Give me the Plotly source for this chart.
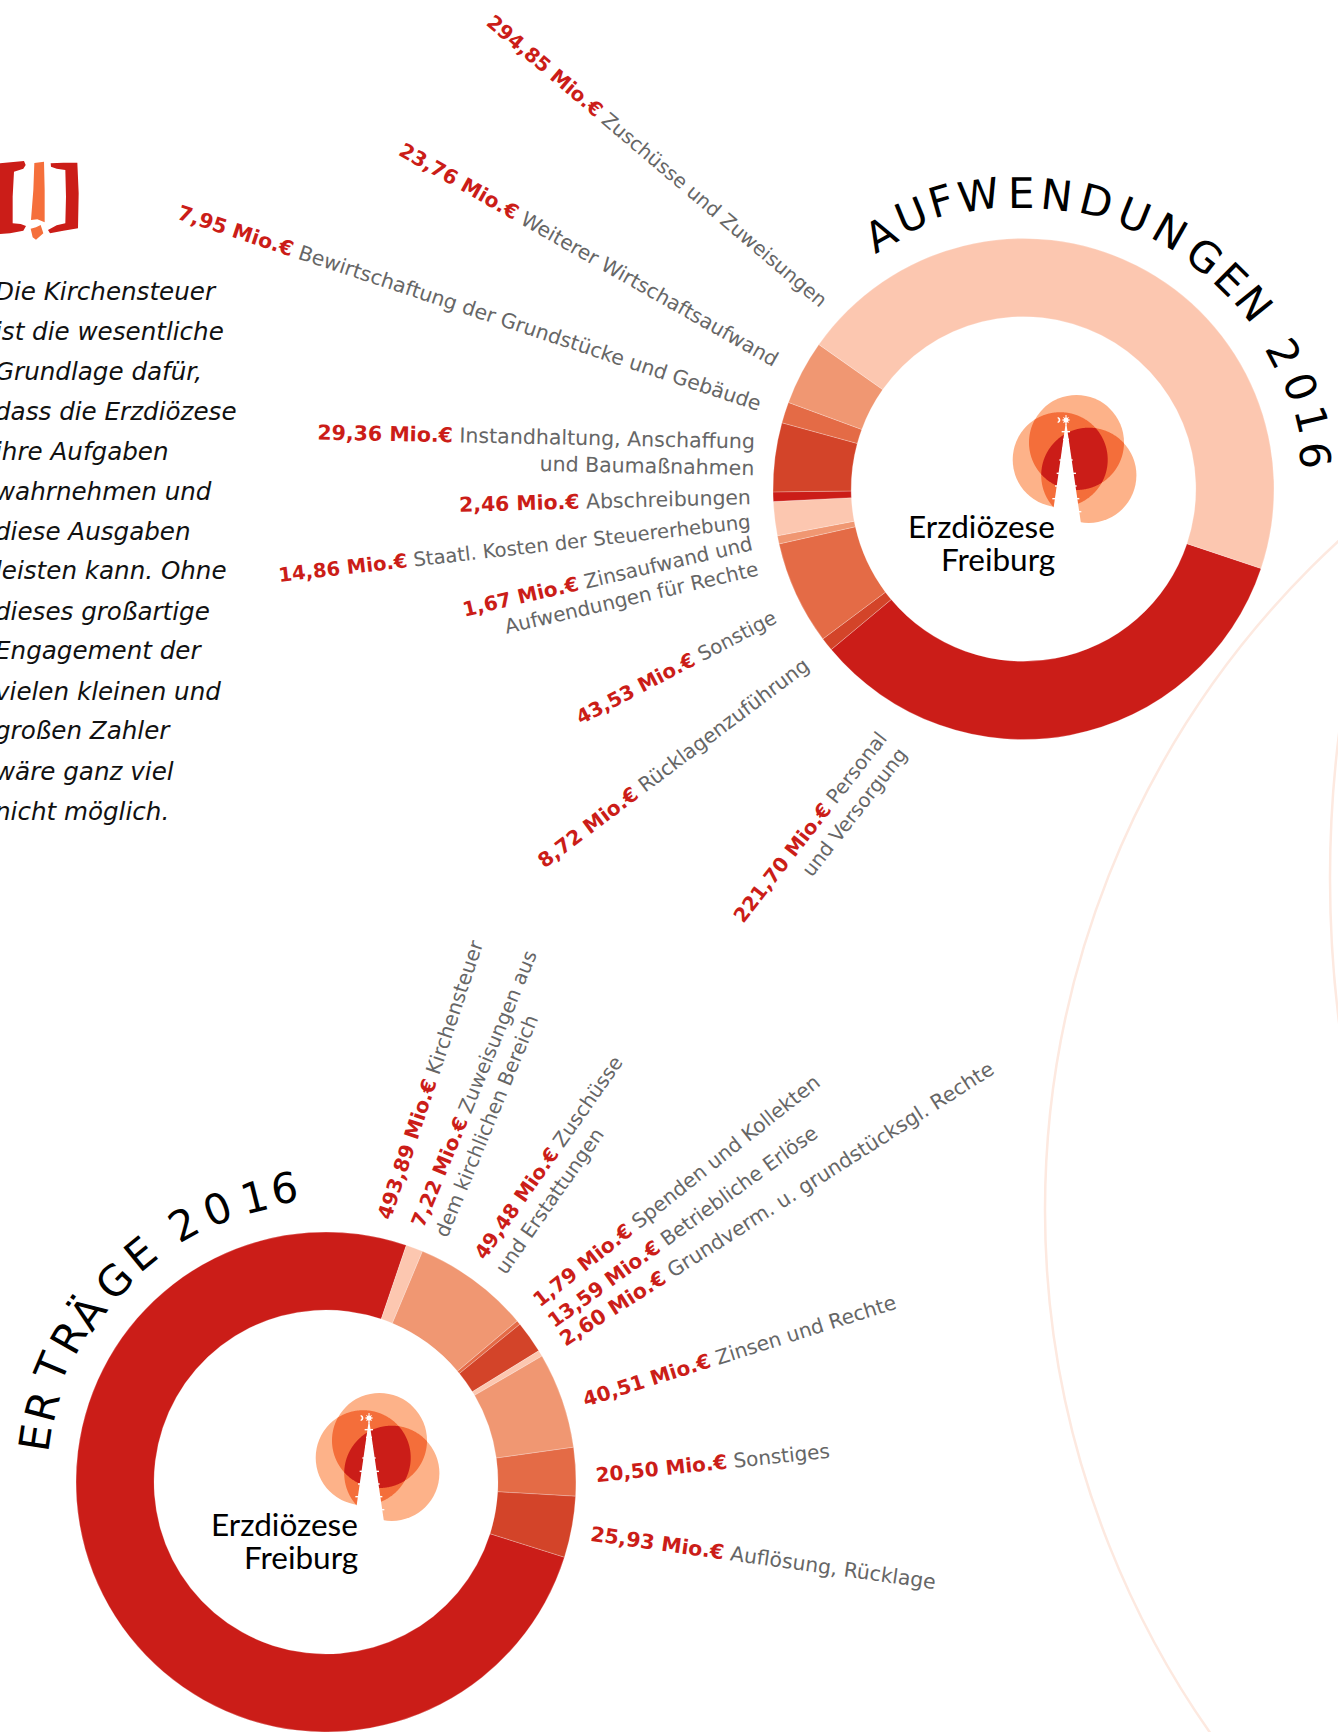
import numpy as np
import plotly.graph_objects as go

W, H = 1338, 1732
S = W / 1211

# ---------- data ----------
aufw_labels = ["Personal und Versorgung", "Rücklagenzuführung", "Sonstige",
               "Zinsaufwand und Aufwendungen für Rechte", "Staatl. Kosten der Steuererhebung",
               "Abschreibungen", "Instandhaltung, Anschaffung und Baumaßnahmen",
               "Bewirtschaftung der Grundstücke und Gebäude", "Weiterer Wirtschaftsaufwand",
               "Zuschüsse und Zuweisungen"]
aufw_values = [219.0, 5.6, 43.4, 3.4, 14.2, 4.0, 28.8, 8.8, 27.0, 294.0]

ertr_labels = ["Kirchensteuer", "Zuweisungen aus dem kirchlichen Bereich",
               "Zuschüsse und Erstattungen", "Spenden und Kollekten", "Betriebliche Erlöse",
               "Grundverm. u. grundstücksgl. Rechte", "Zinsen und Rechte", "Sonstiges",
               "Auflösung, Rücklage"]
ertr_values = [493.89, 7.22, 49.48, 1.79, 13.59, 2.60, 40.51, 20.50, 25.93]

body_lines = ["Die Kirchensteuer", "ist die wesentliche", "Grundlage dafür,", "dass die Erzdiözese",
              "ihre Aufgaben", "wahrnehmen und", "diese Ausgaben", "leisten kann. Ohne",
              "dieses großartige", "Engagement der", "vielen kleinen und", "großen Zahler",
              "wäre ganz viel", "nicht möglich."]

# ---------- styles ----------
C1, C2, C3, C4, C5 = "#CB1D18", "#D34429", "#E46B46", "#F09772", "#FCC7B0"
aufw_colors = [C1, C2, C3, C4, C5, C1, C2, C3, C4, C5]
ertr_colors = [C1, C5, C4, C3, C2, C5, C4, C3, C2]
RED, GREY = "#CB1D18", "#666666"
LBL = "DejaVu Sans"


def px(x):
    return x / W


def py(y):
    return 1 - y / H


def pie(labels, values, colors, cx, cy, r, rot):
    return go.Pie(labels=labels, values=values, sort=False, direction="clockwise", rotation=rot,
                  hole=0.688, textinfo="none", hoverinfo="label", showlegend=False,
                  marker=dict(colors=colors, line=dict(color="rgba(255,255,255,0.6)", width=0.4)),
                  domain=dict(x=[px(cx - r), px(cx + r)], y=[py(cy + r), py(cy - r)]))


fig = go.Figure()
fig.add_trace(pie(aufw_labels, aufw_values, aufw_colors, 1023.5, 489, 250.5, 108.5))
fig.add_trace(pie(ertr_labels, ertr_values, ertr_colors, 326, 1482, 250, 107.5))

annotations = []


def label(amount, text, x, y, angle, k=1.0, align="right"):
    annotations.append(dict(
        text=f'<span style="color:{RED};font-weight:bold">{amount} Mio.€</span> {text}',
        xref="paper", yref="paper", x=px(x * S), y=py(y * S), xanchor="center", yanchor="middle",
        textangle=angle, showarrow=False, align=align,
        font=dict(family=LBL, size=19.8 * k, color=GREY)))


# placement of the labels (centre x, centre y, angle, size factor), reference-view coordinates
label("294,85", "Zuschüsse und Zuweisungen", 594.5, 146.5, 40.3, 1.0)
label("23,76", "Weiterer Wirtschaftsaufwand", 533.5, 230.5, 29.5, 1.02)
label("7,95", "Bewirtschaftung der Grundstücke und Gebäude", 424.5, 279, 18.3, 1.03)
label("29,36", "Instandhaltung, Anschaffung<br>und Baumaßnahmen", 485.5, 407.5, 1.2, 1.037)
label("2,46", "Abschreibungen", 548, 453.5, -1.5, 1.03)
label("14,86", "Staatl. Kosten der Steuererhebung", 466, 496.5, -6.5, 0.99)
label("1,67", "Zinsaufwand und<br>Aufwendungen für Rechte", 553, 533, -13, 1.01)
label("43,53", "Sonstige", 612.5, 604, -27.5, 1.0)
label("8,72", "Rücklagenzuführung", 609.5, 691, -37, 1.02)
label("221,70", "Personal<br>und Versorgung", 742.5, 756, -52, 1.0)
label("493,89", "Kirchensteuer", 390, 977, -71.5, 1.015)
label("7,22", "Zuweisungen aus<br>dem kirchlichen Bereich", 440.5, 990, -67.5, 1.0, "left")
label("49,48", "Zuschüsse<br>und Erstattungen", 506, 1054.5, -55, 1.0, "left")
label("1,79", "Spenden und Kollekten", 612, 1078, -38.4, 1.02)
label("13,59", "Betriebliche Erlöse", 617.5, 1110.5, -36, 1.015)
label("2,60", "Grundverm. u. grundstücksgl. Rechte", 703, 1090, -32.5, 1.033)
label("40,51", "Zinsen und Rechte", 669, 1223, -17.5, 1.015)
label("20,50", "Sonstiges", 645, 1324, -6, 1.01)
label("25,93", "Auflösung, Rücklage", 691, 1410, 8, 1.03)


def arc_title(letters, pts, cx, cy, size):
    for ch, (x, y) in zip(letters, pts):
        ang = np.degrees(np.arctan2(x - cx, cy - y))
        annotations.append(dict(text=ch, xref="paper", yref="paper", x=px(x), y=py(y),
                                xanchor="center", yanchor="middle", textangle=float(ang),
                                showarrow=False, font=dict(family=LBL, size=size, color="#000000")))


title1_letters = list("AUFWENDUNGEN2016")
title1_pts = [(880.5, 234), (911.4, 215), (941.3, 201.7), (979, 196), (1022, 193.3), (1056, 195),
              (1095.8, 201.7), (1134, 215), (1169, 231.7), (1204, 256.7), (1230.3, 280),
              (1253.6, 303.3), (1283.5, 353.3), (1300, 386.7), (1311.8, 420), (1315, 455)]
arc_title(title1_letters, title1_pts, 1023.5, 489, 42)

title2_letters = list("ERTRÄGE2016")
title2_pts = [(35, 1438), (42, 1407), (52, 1367), (68.7, 1337), (88, 1313), (114, 1281),
              (140, 1254), (183.7, 1224), (217, 1209), (254, 1197), (284, 1188.7)]
arc_title(title2_letters, title2_pts, 326, 1482, 42)

# body copy
for i, line in enumerate(body_lines):
    annotations.append(dict(text=f"<i>{line}</i>", xref="paper", yref="paper",
                            x=px(-7), y=py(291 + i * 40), xanchor="left", yanchor="middle",
                            showarrow=False, font=dict(family=LBL, size=24.6, color="#111111")))

# ---------- decoration ----------
shapes = []


def circle(cx, cy, r, **kw):
    shapes.append(dict(type="circle", xref="paper", yref="paper", x0=px(cx - r), x1=px(cx + r),
                       y0=py(cy + r), y1=py(cy - r), **kw))


def poly(points, color, close=True):
    d = "M" + " L".join(f"{px(x):.6f} {py(y):.6f}" for x, y in points) + (" Z" if close else "")
    shapes.append(dict(type="path", xref="paper", yref="paper", path=d, fillcolor=color,
                       line=dict(width=0)))


def seg(x0, y0, x1, y1, w=1.0):
    shapes.append(dict(type="line", xref="paper", yref="paper", x0=px(x0), x1=px(x1),
                       y0=py(y0), y1=py(y1), line=dict(color="white", width=w)))


ARC = "#FDE9E0"
circle(1954, 1210, 909, line=dict(color=ARC, width=2.5), layer="below")
circle(2473, 878, 1143, line=dict(color=ARC, width=2.5), layer="below")


def inter(circles, n=720):
    t = np.linspace(0, 2 * np.pi, n, endpoint=False)
    pts = []
    for i, (cx, cy, r) in enumerate(circles):
        p = np.c_[cx + r * np.cos(t), cy + r * np.sin(t)]
        for j, (a, b, q) in enumerate(circles):
            if j != i:
                p = p[np.hypot(p[:, 0] - a, p[:, 1] - b) <= q]
        pts.append(p)
    pts = np.vstack(pts)
    c = pts.mean(axis=0)
    return pts[np.argsort(np.arctan2(pts[:, 1] - c[1], pts[:, 0] - c[0]))].tolist()


def logo(ox, oy):
    A = (ox + 1076.5, oy + 442.5, 47.5)
    B = (ox + 1060.2, oy + 459.7, 47.5)
    C = (ox + 1088.8, oy + 475.3, 47.6)
    for cx, cy, r in (A, B, C):
        circle(cx, cy, r, fillcolor="#FDB289", line=dict(width=0))
    for pair in ((A, B), (A, C), (B, C)):
        poly(inter(pair), "#F46E3A")
    poly(inter((A, B, C)), C1)

    def z(a, b):  # logo drawing units: 3 per pixel, measured from the crop origin
        return ox + 1000 + a / 3, oy + 380 + b / 3

    poly([z(197, 130), z(199, 130), z(245, 445), z(152, 445)], "white")
    seg(*z(198, 105), *z(198, 135), 1)
    for yy, a, b in [(155, 185, 210), (178, 189, 207), (205, 186, 210), (240, 178, 218),
                     (280, 170, 228), (318, 165, 230), (356, 157, 238), (395, 232, 244)]:
        seg(*z(a, yy), *z(b, yy), 1.4)
    circle(*z(198, 120), 2.6, fillcolor="white", line=dict(width=0))
    seg(*z(186, 120), *z(210, 120), 0.8)
    seg(*z(190, 111), *z(206, 129), 0.8)
    seg(*z(190, 129), *z(206, 111), 0.8)
    t = np.linspace(-1.3, 1.3, 12)
    outer = [z(172 + 9 * np.cos(a), 120 + 9 * np.sin(a)) for a in t]
    inner = [z(170 + 6 * np.cos(a), 120 + 6 * np.sin(a)) for a in t[::-1]]
    poly(outer + inner, "white")
    for txt, yy in (("Erzdiözese", 526), ("Freiburg", 559)):
        annotations.append(dict(text=txt, xref="paper", yref="paper", x=px(ox + 1057), y=py(oy + yy),
                                xanchor="right", yanchor="middle", showarrow=False,
                                font=dict(family="Lato", size=31.5, color="#000000")))


logo(0, 0)
logo(-697, 998)


def bang(points, color):
    poly([(x / 3, 140 + y / 3) for x, y in points], color)


bang([(-6, 70), (40, 66), (72, 63), (77, 75), (70, 86), (42, 95), (38, 170), (38, 250), (62, 252),
      (78, 258), (70, 272), (30, 280), (-6, 282)], C1)
bang([(152, 70), (190, 68), (232, 68), (236, 160), (234, 265), (190, 272), (150, 280), (144, 270),
      (170, 256), (196, 250), (198, 170), (196, 90), (170, 86), (153, 80)], C1)
bang([(103, 69), (132, 65), (134, 150), (134, 247), (112, 238), (93, 240), (100, 150)], "#F56F3B")
bang([(92, 266), (108, 262), (122, 255), (130, 280), (108, 299), (98, 292)], "#F56F3B")

fig.update_layout(width=W, height=H, margin=dict(l=0, r=0, t=0, b=0), paper_bgcolor="white",
                  plot_bgcolor="white", annotations=annotations, shapes=shapes, showlegend=False)

fig.write_html("out.html", config=dict(displayModeBar=False),
               post_script="document.body.style.margin='0';document.body.style.overflow='hidden';")
